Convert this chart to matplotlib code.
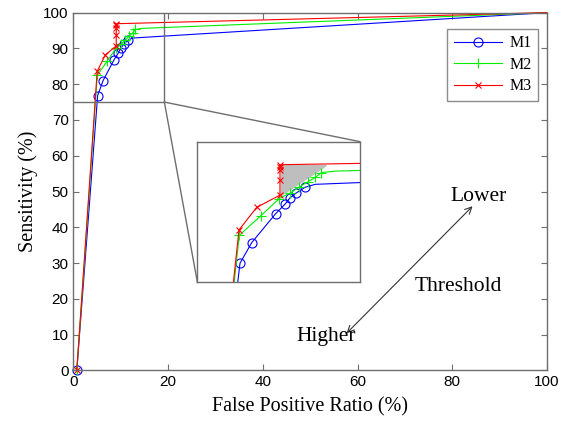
import matplotlib
matplotlib.use("Agg")
import matplotlib.pyplot as plt
from matplotlib.patches import ConnectionPatch

# ---- data ----
m1_x = [0.7, 5.1, 6.25, 8.6, 9.5, 10.0, 10.6, 11.5, 12.5, 100]
m1_y = [0.0, 76.8, 81.0, 86.9, 88.8, 90.1, 91.1, 92.3, 92.9, 100]
m2_x = [0.7, 5.03, 7.13, 8.96, 10.0, 10.9, 11.8, 12.5, 13.1, 14.5, 100]
m2_y = [0.0, 82.5, 86.45, 90.0, 91.1, 92.3, 93.45, 94.3, 95.3, 95.6, 100]
m3_x = [0.7, 5.0, 6.74, 9.03, 9.03, 9.03, 9.03, 9.03, 100]
m3_y = [0.0, 83.6, 88.2, 90.7, 93.8, 95.8, 96.5, 96.9, 100]
labels = ["M1", "M2", "M3"]
shade_x = [9.1, 9.1, 13.6]
shade_y = [90.7, 96.9, 96.9]
zoom_box = (19.2, 75)   # right / bottom of the zoomed region

serif = ["Liberation Serif", "DejaVu Serif"]
sans = ["Liberation Sans", "DejaVu Sans"]
gray = "#6e6e6e"

fig = plt.figure(figsize=(5.71, 4.21), dpi=100)
ax = fig.add_axes([0.1287, 0.12, 0.829, 0.850])

styles = [dict(color="#0000ff", marker="o", mfc="none", ms=6.5, mew=0.8),
          dict(color="#00ee00", marker="+", ms=7, mew=0.8),
          dict(color="#ff0000", marker="x", ms=4.5, mew=0.8)]
series = [(m1_x, m1_y), (m2_x, m2_y), (m3_x, m3_y)]

def draw(a, main):
    hs = []
    for (xs, ys), st, lab in zip(series, styles, labels):
        me = [i for i in range(len(xs)) if xs[i] < 100 and not (lab == "M1" and i == 8) and not (lab == "M2" and i == 9)]
        h, = a.plot(xs, ys, lw=0.8, label=lab, markevery=me, clip_on=not main, **st)
        hs.append(h)
    return hs

hs = draw(ax, True)
ax.set_xlim(0, 100)
ax.set_ylim(0, 100)
ax.set_xticks(range(0, 101, 20))
ax.set_yticks(range(0, 101, 10))
ax.tick_params(direction="in", top=True, right=True, length=4, color=gray,
               labelsize=11)
for lab in ax.get_xticklabels() + ax.get_yticklabels():
    lab.set_family(sans)
for s in ax.spines.values():
    s.set_color(gray)
    s.set_linewidth(1.0)
ax.set_xlabel("False Positive Ratio (%)", family=serif, fontsize=14.5, labelpad=6)
ax.set_ylabel("Sensitivity (%)", family=serif, fontsize=14.5, labelpad=4)

# zoom rectangle
bx, by = zoom_box
ax.plot([bx, bx], [by, 100], color=gray, lw=1.0)
ax.plot([0, bx], [by, by], color=gray, lw=1.0)

leg = ax.legend(handles=hs, loc="upper right", bbox_to_anchor=(0.982, 0.955),
                prop={"family": serif, "size": 11.5}, frameon=True, fancybox=False,
                handlelength=3.0, labelspacing=0.35, borderpad=0.4,
                handletextpad=0.5, borderaxespad=0)
leg.get_frame().set_edgecolor(gray)
leg.get_frame().set_linewidth(1.0)

# annotation
ax.annotate("", xy=(84.3, 45.9), xytext=(57.7, 10.4),
            arrowprops=dict(arrowstyle="<->", color="#333333", lw=0.8,
                            shrinkA=0, shrinkB=0, mutation_scale=12))
ax.text(85.6, 48.5, "Lower", family=serif, fontsize=15.5, ha="center", va="center")
ax.text(81.2, 23.4, "Threshold", family=serif, fontsize=15.5, ha="center", va="center")
ax.text(53.3, 9.4, "Higher", family=serif, fontsize=15.5, ha="center", va="center")

# inset
ins = fig.add_axes([0.3455, 0.331, 0.285, 0.3325])
draw(ins, False)
ins.fill(shade_x, shade_y, color="#bebebe", zorder=1)
ins.set_xlim(0.9, 16.9)
ins.set_ylim(73.05, 101.6)
ins.set_xticks([])
ins.set_yticks([])
for s in ins.spines.values():
    s.set_color(gray)
    s.set_linewidth(1.0)

for xyB in [(1, 1), (0, 0)]:
    con = ConnectionPatch(xyA=(bx, by), coordsA=ax.transData, xyB=xyB,
                          coordsB=ins.transAxes, color=gray, lw=1.0)
    fig.add_artist(con)

fig.savefig("out.png", dpi=100)
